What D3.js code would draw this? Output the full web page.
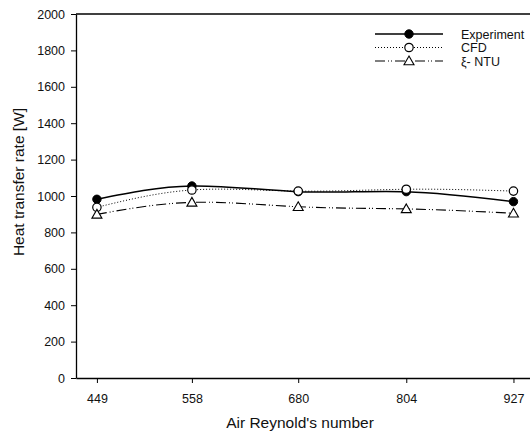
<!DOCTYPE html>
<html><head><meta charset="utf-8">
<script src="https://cdn.jsdelivr.net/npm/d3@7"></script>
<style>
html,body{margin:0;padding:0;background:#fff;}
svg{display:block;font-family:"Liberation Sans",Arial,sans-serif;}
</style></head>
<body>
<svg id="c" width="530" height="434"></svg>
<script>
const reynolds = [449, 558, 680, 804, 927];
const experiment = [982, 1055, 1024, 1024, 969];
const cfd = [938, 1033, 1027, 1037, 1027];
const ntu = [899, 965, 941, 929, 905];
const yTicks = [0, 200, 400, 600, 800, 1000, 1200, 1400, 1600, 1800, 2000];
const seriesNames = ["Experiment", "CFD", "\u03BE- NTU"];

const svg = d3.select("#c");
const x = d3.scaleLinear().domain([425, 950]).range([76, 533.5]);
const y = d3.scaleLinear().domain([0, 2000]).range([378, 14]);

// frame top line
svg.append("line").attr("x1", x.range()[0]).attr("x2", 530).attr("y1", y(2000)).attr("y2", y(2000))
  .attr("stroke", "#000").attr("stroke-width", 1.3);

const yAxis = svg.append("g").attr("transform", `translate(${x.range()[0]},0)`)
  .call(d3.axisLeft(y).tickValues(yTicks).tickFormat(d3.format("d")).tickSize(5).tickSizeOuter(0).tickPadding(6));
const xAxis = svg.append("g").attr("transform", `translate(0,${y(0)})`)
  .call(d3.axisBottom(x).tickValues(reynolds).tickFormat(d3.format("d")).tickSize(5).tickSizeOuter(0).tickPadding(11));
[yAxis, xAxis].forEach(g => {
  g.selectAll("path.domain").attr("stroke", "#000").attr("stroke-width", 1.3);
  g.selectAll(".tick line").attr("stroke", "#000").attr("stroke-width", 1);
  g.selectAll("text").attr("font-size", 12.5).attr("fill", "#111").attr("font-family", "Liberation Sans, Arial, sans-serif");
});

svg.append("text").attr("x", 300).attr("y", 428).attr("text-anchor", "middle")
  .attr("font-size", 15.5).attr("fill", "#111").text("Air Reynold's number");
svg.append("text").attr("transform", "translate(24,182) rotate(-90)").attr("text-anchor", "middle")
  .attr("font-size", 15.5).attr("fill", "#111").text("Heat transfer rate [W]");

const series = [
  {name: seriesNames[0], vals: experiment, dash: null, width: 1.5, marker: "fillcircle"},
  {name: seriesNames[1], vals: cfd, dash: "1,2", width: 1, marker: "circle"},
  {name: seriesNames[2], vals: ntu, dash: "10,3,1,2,1,3", width: 1.1, marker: "triangle"}
];

const line = d3.line().x(d => x(d[0])).y(d => y(d[1])).curve(d3.curveNatural);

function drawMarker(g, type, cx, cy) {
  if (type === "fillcircle") {
    g.append("circle").attr("cx", cx).attr("cy", cy).attr("r", 4.2).attr("fill", "#000").attr("stroke", "#000");
  } else if (type === "circle") {
    g.append("circle").attr("cx", cx).attr("cy", cy).attr("r", 4.2).attr("fill", "#fff").attr("stroke", "#000").attr("stroke-width", 1.2);
  } else {
    const s = 5;
    g.append("path").attr("d", `M${cx},${cy - s}L${cx + s},${cy + s * 0.75}L${cx - s},${cy + s * 0.75}Z`)
      .attr("fill", "#fff").attr("stroke", "#000").attr("stroke-width", 1.1);
  }
}

const plot = svg.append("g");
series.slice().reverse().forEach(s => {
  const pts = reynolds.map((r, i) => [r, s.vals[i]]);
  plot.append("path").attr("d", line(pts)).attr("fill", "none").attr("stroke", "#000")
    .attr("stroke-width", s.width).attr("stroke-dasharray", s.dash);
});
series.forEach(s => {
  reynolds.forEach((r, i) => drawMarker(plot, s.marker, x(r), y(s.vals[i])));
});

// legend
const lg = svg.append("g");
series.forEach((s, i) => {
  const ly = 34 + i * 13.5;
  lg.append("line").attr("x1", 375).attr("x2", 443).attr("y1", ly).attr("y2", ly)
    .attr("stroke", "#000").attr("stroke-width", s.width).attr("stroke-dasharray", s.dash);
  drawMarker(lg, s.marker, 409, ly);
  lg.append("text").attr("x", 461).attr("y", ly + 4.5).attr("font-size", 12.5).attr("fill", "#111").text(s.name);
});
</script>
</body></html>
